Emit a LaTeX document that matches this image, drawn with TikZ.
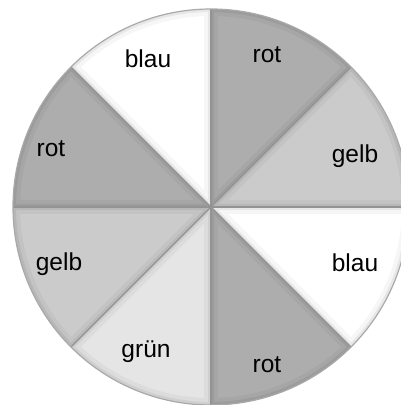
\documentclass[tikz,border=0pt]{standalone}
\usepackage{fontspec}
\setmainfont{Liberation Sans}
\usetikzlibrary{positioning}
\definecolor{rotgrau}{HTML}{ADADAD}
\definecolor{gelbgrau}{HTML}{CBCBCB}
\definecolor{gruengrau}{HTML}{E5E5E5}
\definecolor{randgrau}{HTML}{939393}

\begin{document}
\begin{tikzpicture}[
    x=1pt, y=1pt,
    sektor/.style={fill=#1},
    kante/.style={draw=randgrau, line width=1.4pt},
    rand/.style={draw=randgrau!80, line width=1.2pt},
    lbl/.style={font=\fontsize{24.5}{29}\selectfont, anchor=base, inner sep=0pt}
]
\useasboundingbox (0,0) rectangle (401,405);
\clip (0,0) rectangle (401,405);
\coordinate (m) at (211,198);

% Sektoren mit weichem Rand nach innen
\foreach \a/\c in {45/rotgrau, 0/gelbgrau, -45/white, -90/rotgrau, -135/gruengrau, 180/gelbgrau, 135/rotgrau, 90/white} {
  \begin{scope}
    \clip (m) -- ++(\a:198) arc[start angle=\a, delta angle=45, radius=198] -- cycle;
    \fill[sektor=\c] (m) circle[radius=198];
    \draw[black, opacity=0.035, line width=14pt] (m) -- ++(\a:198) arc[start angle=\a, delta angle=45, radius=198] -- cycle;
    \draw[black, opacity=0.06, line width=6pt] (m) -- ++(\a:198) arc[start angle=\a, delta angle=45, radius=198] -- cycle;
  \end{scope}
}

\foreach \a in {0,45,...,315}
  \draw[kante] (m) -- ++(\a:198);
\draw[rand] (m) circle[radius=198];

\node[lbl] (blauoben) at (148,337) {blau};
\node[lbl] (rotoben) at (267,342) {rot};
\node[lbl] (gelbrechts) at (355,242) {gelb};
\node[lbl] (blaurechts) at (355,133) {blau};
\node[lbl] (rotunten) at (267,32) {rot};
\node[lbl] (gruen) at (146,47) {grün};
\node[lbl] (gelblinks) at (59,134) {gelb};
\node[lbl] (rotlinks) at (51,248) {rot};
\end{tikzpicture}
\end{document}
